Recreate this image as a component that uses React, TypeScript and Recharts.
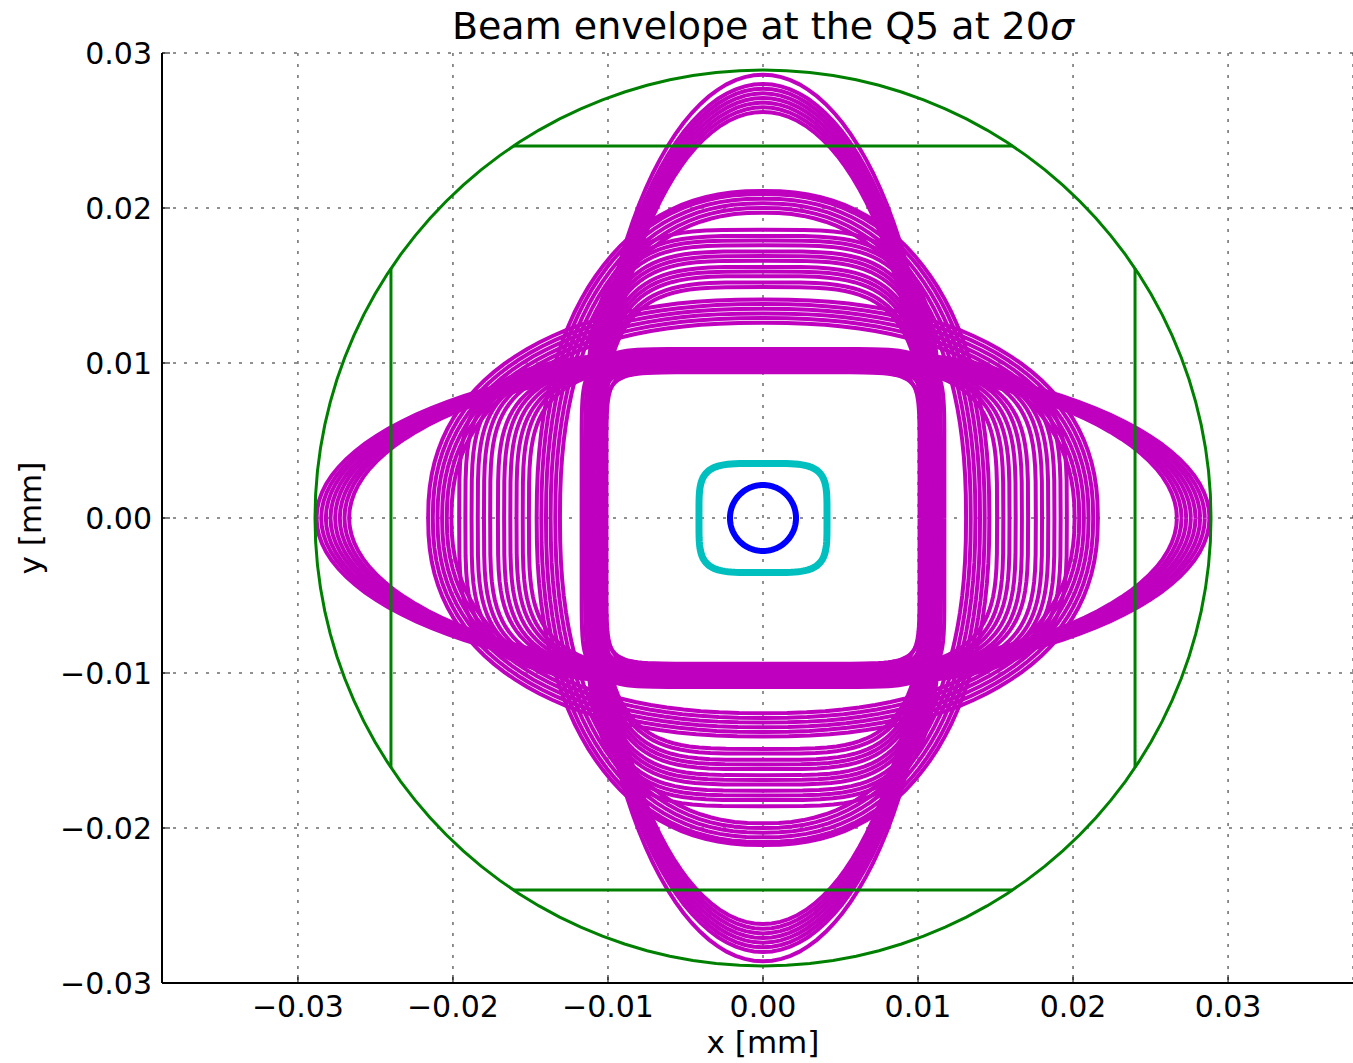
import React from 'react';
import { ComposedChart, Line, XAxis, YAxis, CartesianGrid } from 'recharts';

const X_TICKS = [-0.03, -0.02, -0.01, 0, 0.01, 0.02, 0.03];
const Y_TICKS = [-0.03, -0.02, -0.01, 0, 0.01, 0.02, 0.03];
const X_DOMAIN = [-0.03877, 0.03806];
const Y_DOMAIN = [-0.03, 0.03];

// aperture: circle radius, flat half-gap of the rectangle, and where the flats meet the circle
const APERTURE_R = 0.0289;
const APERTURE_FLAT = 0.024;
const APERTURE_CHORD = 0.0161;

// magenta envelopes, [half-width, half-height] of each contour
const H_INNER = [[0.0102, 0.0094], [0.0105, 0.0096], [0.0108, 0.0098], [0.0111, 0.01], [0.0114, 0.0102], [0.0117, 0.0104]];
const V_INNER = [[0.0101, 0.0096], [0.0103, 0.0099], [0.0105, 0.0102], [0.0107, 0.0105], [0.0109, 0.0107], [0.0111, 0.0109]];
const H_LINES = [
  [0.0151, 0.01], [0.0155, 0.0101], [0.0159, 0.0101], [0.0163, 0.0102], [0.0167, 0.0103], [0.0171, 0.0103],
  [0.0176, 0.0104], [0.018, 0.0105], [0.0184, 0.0105], [0.0188, 0.0106], [0.0192, 0.0107], [0.0196, 0.0107],
];
const V_LINES = [
  [0.0104, 0.0149], [0.0105, 0.0152], [0.0106, 0.0156], [0.0107, 0.0159], [0.0108, 0.0162], [0.0109, 0.0166],
  [0.011, 0.0169], [0.0111, 0.0172], [0.0112, 0.0176], [0.0113, 0.0179], [0.0114, 0.0182], [0.0115, 0.0186],
];
const H_OUTER = [[0.0201, 0.0126], [0.0204, 0.0129], [0.0207, 0.0132], [0.021, 0.0135], [0.0213, 0.0138], [0.0216, 0.0141]];
const V_OUTER = [[0.0131, 0.0197], [0.0134, 0.02], [0.0137, 0.0203], [0.014, 0.0206], [0.0143, 0.0209], [0.0146, 0.0211]];
const H_EYE = [
  [0.0267, 0.0102], [0.027, 0.0103], [0.0273, 0.0103], [0.0276, 0.0104],
  [0.0279, 0.0104], [0.0282, 0.0105], [0.0285, 0.0105], [0.0288, 0.0106],
];
const V_EYE = [
  [0.0106, 0.0262], [0.0107, 0.0265], [0.0108, 0.0268], [0.0109, 0.0271],
  [0.011, 0.0274], [0.0111, 0.0277], [0.0112, 0.028], [0.0113, 0.0286],
];
// squareness of each group (2 = ellipse)
const GROUP_SHAPE = { inner: 10, lines: 4, outer: 2.3, eye: 2 };

const CYAN_ENVELOPE = [0.00413, 0.00352];
const BLUE_ENVELOPE = [0.00213, 0.00213];

const STEPS = 120;
const contour = (a: number, b: number, n: number) => {
  const pts = [];
  for (let i = 0; i <= STEPS; i++) {
    const t = (2 * Math.PI * i) / STEPS;
    const c = Math.cos(t);
    const s = Math.sin(t);
    pts.push({
      x: a * Math.sign(c) * Math.pow(Math.abs(c), 2 / n),
      y: b * Math.sign(s) * Math.pow(Math.abs(s), 2 / n),
    });
  }
  return pts;
};

const magentaCurves = [
  ...H_EYE.map(([a, b]) => contour(a, b, GROUP_SHAPE.eye)),
  ...V_EYE.map(([a, b]) => contour(a, b, GROUP_SHAPE.eye)),
  ...H_OUTER.map(([a, b]) => contour(a, b, GROUP_SHAPE.outer)),
  ...V_OUTER.map(([a, b]) => contour(a, b, GROUP_SHAPE.outer)),
  ...H_LINES.map(([a, b]) => contour(a, b, GROUP_SHAPE.lines)),
  ...V_LINES.map(([a, b]) => contour(a, b, GROUP_SHAPE.lines)),
  ...H_INNER.map(([a, b]) => contour(a, b, GROUP_SHAPE.inner)),
  ...V_INNER.map(([a, b]) => contour(a, b, GROUP_SHAPE.inner)),
];

const apertureCircle = contour(APERTURE_R, APERTURE_R, 2);
const apertureFlats = [
  [{ x: -APERTURE_CHORD, y: APERTURE_FLAT }, { x: APERTURE_CHORD, y: APERTURE_FLAT }],
  [{ x: -APERTURE_CHORD, y: -APERTURE_FLAT }, { x: APERTURE_CHORD, y: -APERTURE_FLAT }],
  [{ x: -APERTURE_FLAT, y: -APERTURE_CHORD }, { x: -APERTURE_FLAT, y: APERTURE_CHORD }],
  [{ x: APERTURE_FLAT, y: -APERTURE_CHORD }, { x: APERTURE_FLAT, y: APERTURE_CHORD }],
];
const cyanCurve = contour(CYAN_ENVELOPE[0], CYAN_ENVELOPE[1], 4.5);
const blueCurve = contour(BLUE_ENVELOPE[0], BLUE_ENVELOPE[1], 2);

const FONT = '"DejaVu Sans", Verdana, sans-serif';
const fmt = (v: number) => (v < 0 ? '\u2212' : '') + Math.abs(v).toFixed(2);

const BottomTick = (props: any) => {
  const { x, y, payload } = props;
  return (
    <g>
      <line x1={x} y1={y} x2={x} y2={y - 8} stroke="#000" strokeWidth={1} />
      <text x={x} y={y + 34} textAnchor="middle" fontSize={30} fontFamily={FONT} fill="#000">
        {fmt(payload.value)}
      </text>
    </g>
  );
};

const TopTick = (props: any) => {
  const { x, y } = props;
  return <line x1={x} y1={y} x2={x} y2={y + 8} stroke="#000" strokeWidth={1} />;
};

const LeftTick = (props: any) => {
  const { x, y, payload } = props;
  return (
    <g>
      <line x1={x} y1={y} x2={x + 8} y2={y} stroke="#000" strokeWidth={1} />
      <text x={x - 10} y={y + 11} textAnchor="end" fontSize={30} fontFamily={FONT} fill="#000">
        {fmt(payload.value)}
      </text>
    </g>
  );
};

const W = 1353;
const H = 1063;

export default function App() {
  return (
    <div style={{ position: 'absolute', left: 0, top: 0, width: W, height: H, background: '#fff', overflow: 'hidden' }}>
      <ComposedChart width={W} height={H} margin={{ top: 53, right: 0, bottom: 0, left: 0 }}>
        <CartesianGrid stroke="#222" strokeWidth={1} strokeDasharray="3 8" xAxisId="bottom" yAxisId="left" />
        <XAxis
          xAxisId="bottom"
          dataKey="x"
          type="number"
          domain={X_DOMAIN}
          ticks={X_TICKS}
          allowDataOverflow
          height={80}
          tickSize={0}
          tickMargin={0}
          tickLine={false}
          axisLine={{ stroke: '#000', strokeWidth: 2 }}
          tick={<BottomTick />}
          interval={0}
        />
        <XAxis
          xAxisId="top"
          orientation="top"
          dataKey="x"
          type="number"
          domain={X_DOMAIN}
          ticks={X_TICKS}
          allowDataOverflow
          height={0}
          tickSize={0}
          tickMargin={0}
          tickLine={false}
          axisLine={{ stroke: '#000', strokeWidth: 2 }}
          tick={<TopTick />}
          interval={0}
        />
        <YAxis
          yAxisId="left"
          dataKey="y"
          type="number"
          domain={Y_DOMAIN}
          ticks={Y_TICKS}
          allowDataOverflow
          width={162}
          tickSize={0}
          tickMargin={0}
          tickLine={false}
          axisLine={{ stroke: '#000', strokeWidth: 2 }}
          tick={<LeftTick />}
          interval={0}
        />
        {magentaCurves.map((pts, i) => (
          <Line
            key={`m${i}`}
            xAxisId="bottom"
            yAxisId="left"
            data={pts}
            dataKey="y"
            type="linear"
            stroke="#BF00BF"
            strokeWidth={4}
            dot={false}
            activeDot={false}
            isAnimationActive={false}
          />
        ))}
        <Line xAxisId="bottom" yAxisId="left" data={apertureCircle} dataKey="y" type="linear" stroke="#008000" strokeWidth={3} dot={false} activeDot={false} isAnimationActive={false} />
        {apertureFlats.map((pts, i) => (
          <Line key={`g${i}`} xAxisId="bottom" yAxisId="left" data={pts} dataKey="y" type="linear" stroke="#008000" strokeWidth={3} dot={false} activeDot={false} isAnimationActive={false} />
        ))}
        <Line xAxisId="bottom" yAxisId="left" data={cyanCurve} dataKey="y" type="linear" stroke="#00BFBF" strokeWidth={7} dot={false} activeDot={false} isAnimationActive={false} />
        <Line xAxisId="bottom" yAxisId="left" data={blueCurve} dataKey="y" type="linear" stroke="#0000FF" strokeWidth={6} dot={false} activeDot={false} isAnimationActive={false} />
      </ComposedChart>
      <div style={{ position: 'absolute', left: 163, width: 1200, top: 4, textAlign: 'center', fontFamily: FONT, fontSize: 38, color: '#000', lineHeight: '44px' }}>
        Beam envelope at the Q5 at 20<span style={{ fontStyle: 'italic' }}>σ</span>
      </div>
      <div style={{ position: 'absolute', left: 663, width: 200, top: 1024, textAlign: 'center', fontFamily: FONT, fontSize: 31, color: '#000', lineHeight: '36px' }}>
        x [mm]
      </div>
      <div style={{ position: 'absolute', left: 30 - 100, width: 200, top: 518 - 18, textAlign: 'center', fontFamily: FONT, fontSize: 31, color: '#000', lineHeight: '36px', transform: 'rotate(-90deg)' }}>
        y [mm]
      </div>
    </div>
  );
}
